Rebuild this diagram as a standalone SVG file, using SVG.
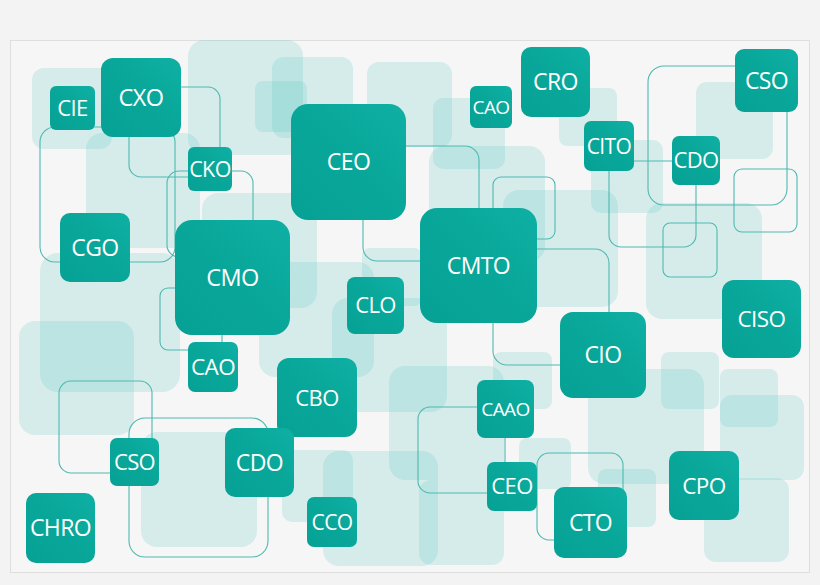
<svg xmlns="http://www.w3.org/2000/svg" width="820" height="585" viewBox="0 0 820 585">
<defs>
<linearGradient id="ng" x1="0" y1="1" x2="1" y2="0">
<stop offset="0" stop-color="#06a194"/>
<stop offset="0.6" stop-color="#09a89b"/>
<stop offset="1" stop-color="#0fb0a4"/>
</linearGradient>
<style>
.sq{fill:#55c8c3;fill-opacity:0.2}
.ln{fill:none;stroke:#4fb9b1;stroke-width:1.1}
.nd{fill:url(#ng)}
.tx{fill:#ffffff;font-family:"Open Sans","Noto Sans","Liberation Sans",sans-serif;text-anchor:middle;letter-spacing:-0.6px}
</style>
</defs>
<rect x="0" y="0" width="820" height="585" fill="#f3f3f3"/>
<rect x="10.5" y="40.5" width="799" height="532" fill="#f6f6f6" stroke="#dedede" stroke-width="1"/>
<g id="background-squares">
<rect class="sq" x="32" y="68" width="80" height="81" rx="12"/>
<rect class="sq" x="188" y="40" width="115" height="115" rx="16"/>
<rect class="sq" x="272" y="57" width="81" height="81" rx="12"/>
<rect class="sq" x="255" y="81" width="52" height="51" rx="8"/>
<rect class="sq" x="367" y="62" width="85" height="85" rx="12"/>
<rect class="sq" x="433" y="98" width="72" height="71" rx="10"/>
<rect class="sq" x="429" y="146" width="116" height="116" rx="16"/>
<rect class="sq" x="86" y="133" width="114" height="115" rx="16"/>
<rect class="sq" x="202" y="193" width="115" height="115" rx="16"/>
<rect class="sq" x="503" y="190" width="115" height="117" rx="16"/>
<rect class="sq" x="559" y="88" width="58" height="58" rx="8"/>
<rect class="sq" x="591" y="140" width="72" height="73" rx="10"/>
<rect class="sq" x="696" y="82" width="77" height="77" rx="11"/>
<rect class="sq" x="646" y="203" width="116" height="116" rx="16"/>
<rect class="sq" x="40" y="253" width="140" height="139" rx="18"/>
<rect class="sq" x="19" y="321" width="115" height="114" rx="16"/>
<rect class="sq" x="259" y="262" width="115" height="115" rx="16"/>
<rect class="sq" x="332" y="298" width="115" height="114" rx="16"/>
<rect class="sq" x="362" y="248" width="60" height="58" rx="8"/>
<rect class="sq" x="389" y="366" width="115" height="114" rx="16"/>
<rect class="sq" x="493" y="352" width="59" height="57" rx="8"/>
<rect class="sq" x="141" y="432" width="116" height="115" rx="16"/>
<rect class="sq" x="282" y="450" width="71" height="72" rx="10"/>
<rect class="sq" x="323" y="451" width="115" height="115" rx="16"/>
<rect class="sq" x="419" y="480" width="85" height="85" rx="12"/>
<rect class="sq" x="519" y="438" width="52" height="51" rx="8"/>
<rect class="sq" x="598" y="469" width="58" height="58" rx="8"/>
<rect class="sq" x="588" y="369" width="116" height="115" rx="16"/>
<rect class="sq" x="661" y="352" width="58" height="57" rx="8"/>
<rect class="sq" x="720" y="369" width="58" height="58" rx="8"/>
<rect class="sq" x="720" y="395" width="84" height="85" rx="12"/>
<rect class="sq" x="704" y="478" width="85" height="84" rx="12"/>
</g>
<g id="connectors">
<rect class="ln" x="40" y="127" width="135" height="135" rx="15"/>
<rect class="ln" x="167" y="171" width="86" height="86" rx="12"/>
<rect class="ln" x="129" y="87" width="91" height="90" rx="12"/>
<rect class="ln" x="363" y="146" width="116" height="115" rx="14"/>
<rect class="ln" x="493" y="177" width="62" height="62" rx="8"/>
<rect class="ln" x="493" y="249" width="116" height="116" rx="14"/>
<rect class="ln" x="648" y="66" width="139" height="139" rx="16"/>
<rect class="ln" x="734" y="169" width="63" height="63" rx="8"/>
<rect class="ln" x="609" y="161" width="87" height="86" rx="12"/>
<rect class="ln" x="663" y="223" width="54" height="54" rx="7"/>
<rect class="ln" x="160" y="288" width="62" height="62" rx="8"/>
<rect class="ln" x="59" y="381" width="93" height="92" rx="12"/>
<rect class="ln" x="129" y="418" width="139" height="139" rx="16"/>
<rect class="ln" x="418" y="407" width="87" height="86" rx="12"/>
<rect class="ln" x="537" y="453" width="86" height="87" rx="12"/>
</g>
<g id="node-cie"><rect class="nd" x="50" y="86" width="45" height="44" rx="6"/><text class="tx" x="72.5" y="116" font-size="22">CIE</text></g>
<g id="node-cxo"><rect class="nd" x="101" y="58" width="80" height="79" rx="12"/><text class="tx" x="141" y="106" font-size="23.5">CXO</text></g>
<g id="node-cko"><rect class="nd" x="188" y="147" width="44" height="44" rx="6"/><text class="tx" x="210" y="176.7" font-size="21.5">CKO</text></g>
<g id="node-cgo"><rect class="nd" x="60" y="213" width="70" height="69" rx="10"/><text class="tx" x="95" y="255.8" font-size="23">CGO</text></g>
<g id="node-cmo"><rect class="nd" x="175" y="220" width="115" height="115" rx="17"/><text class="tx" x="232.5" y="286" font-size="23.5">CMO</text></g>
<g id="node-ceo"><rect class="nd" x="291" y="104" width="115" height="116" rx="17"/><text class="tx" x="348.5" y="170.3" font-size="23">CEO</text></g>
<g id="node-cao-top"><rect class="nd" x="470" y="86" width="42" height="42" rx="6"/><text class="tx" x="491" y="113.8" font-size="19">CAO</text></g>
<g id="node-cro"><rect class="nd" x="521" y="47" width="69" height="70" rx="10"/><text class="tx" x="555.5" y="90.3" font-size="23">CRO</text></g>
<g id="node-cmto"><rect class="nd" x="420" y="208" width="117" height="115" rx="17"/><text class="tx" x="478.5" y="273.8" font-size="23">CMTO</text></g>
<g id="node-clo"><rect class="nd" x="347" y="277" width="57" height="57" rx="8"/><text class="tx" x="375.5" y="313.4" font-size="22">CLO</text></g>
<g id="node-cito"><rect class="nd" x="584" y="121" width="50" height="50" rx="7"/><text class="tx" x="609" y="153.5" font-size="21">CITO</text></g>
<g id="node-cdo-top"><rect class="nd" x="672" y="136" width="48" height="49" rx="7"/><text class="tx" x="696" y="168.4" font-size="22">CDO</text></g>
<g id="node-cso-top"><rect class="nd" x="735" y="49" width="63" height="63" rx="9"/><text class="tx" x="766.5" y="88.8" font-size="23">CSO</text></g>
<g id="node-ciso"><rect class="nd" x="722" y="280" width="79" height="78" rx="12"/><text class="tx" x="761.5" y="327" font-size="22.5">CISO</text></g>
<g id="node-cio"><rect class="nd" x="560" y="312" width="86" height="86" rx="13"/><text class="tx" x="603" y="363.3" font-size="23">CIO</text></g>
<g id="node-cpo"><rect class="nd" x="669" y="451" width="70" height="69" rx="10"/><text class="tx" x="704" y="493.6" font-size="22.5">CPO</text></g>
<g id="node-cto"><rect class="nd" x="554" y="487" width="73" height="71" rx="10"/><text class="tx" x="590.5" y="530.8" font-size="23">CTO</text></g>
<g id="node-caao"><rect class="nd" x="477" y="380" width="57" height="58" rx="8"/><text class="tx" x="505.5" y="415.8" font-size="19">CAAO</text></g>
<g id="node-ceo-bottom"><rect class="nd" x="487" y="462" width="50" height="49" rx="7"/><text class="tx" x="512" y="494.4" font-size="22">CEO</text></g>
<g id="node-cbo"><rect class="nd" x="277" y="358" width="80" height="79" rx="12"/><text class="tx" x="317" y="405.5" font-size="22">CBO</text></g>
<g id="node-cco"><rect class="nd" x="307" y="497" width="50" height="50" rx="7"/><text class="tx" x="332" y="529.5" font-size="21">CCO</text></g>
<g id="node-cdo-bottom"><rect class="nd" x="225" y="428" width="69" height="69" rx="10"/><text class="tx" x="259.5" y="470.8" font-size="23">CDO</text></g>
<g id="node-cso-bottom"><rect class="nd" x="110" y="438" width="49" height="48" rx="7"/><text class="tx" x="134.5" y="470" font-size="22">CSO</text></g>
<g id="node-cao-bottom"><rect class="nd" x="188" y="342" width="50" height="50" rx="7"/><text class="tx" x="213" y="375" font-size="22.5">CAO</text></g>
<g id="node-chro"><rect class="nd" x="26" y="493" width="69" height="70" rx="10"/><text class="tx" x="60.5" y="536.3" font-size="23">CHRO</text></g>
</svg>
